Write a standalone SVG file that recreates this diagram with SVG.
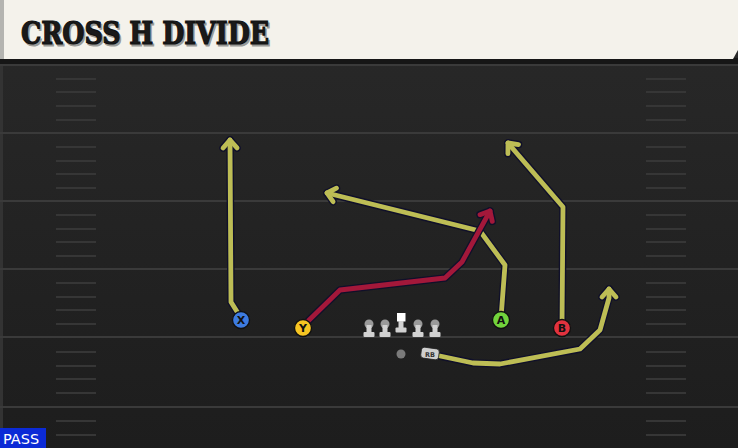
<svg xmlns="http://www.w3.org/2000/svg" width="738" height="448" viewBox="0 0 738 448">
<style>
.yl{stroke:#3a3a3a;stroke-width:2}
.hm{stroke:#363636;stroke-width:2}
.ro{fill:none;stroke:#10102a;stroke-width:7.5;stroke-linejoin:round;stroke-linecap:round}
.ry{fill:none;stroke:#bdbd55;stroke-width:4.8;stroke-linejoin:round;stroke-linecap:round}
.rr{fill:none;stroke:#a3183a;stroke-width:4.8;stroke-linejoin:round;stroke-linecap:round}
.pl{stroke:#111;stroke-width:1.3}
.pt{font-family:"DejaVu Sans",sans-serif;font-weight:bold;font-size:11px;fill:#111;text-anchor:middle}
.ol{fill:#d2d2d2}
</style>
<defs>
<linearGradient id="fg" x1="0" y1="0" x2="0" y2="1">
<stop offset="0" stop-color="#292929"/>
<stop offset="1" stop-color="#1d1d1d"/>
</linearGradient>
<marker id="ao" markerUnits="userSpaceOnUse" viewBox="-12 -10 16 20" refX="0" refY="0" markerWidth="16" markerHeight="20" orient="auto" overflow="visible">
<path d="M-8,-7 L0,0 L-8,7" fill="none" stroke="#10102a" stroke-width="7.5" stroke-linecap="round" stroke-linejoin="round"/>
</marker>
<marker id="ay" markerUnits="userSpaceOnUse" viewBox="-12 -10 16 20" refX="0" refY="0" markerWidth="16" markerHeight="20" orient="auto" overflow="visible">
<path d="M-8,-7 L0,0 L-8,7" fill="none" stroke="#bdbd55" stroke-width="4.8" stroke-linecap="round" stroke-linejoin="round"/>
</marker>
<marker id="ar" markerUnits="userSpaceOnUse" viewBox="-12 -10 16 20" refX="0" refY="0" markerWidth="16" markerHeight="20" orient="auto" overflow="visible">
<path d="M-8,-7 L0,0 L-8,7" fill="none" stroke="#a3183a" stroke-width="4.8" stroke-linecap="round" stroke-linejoin="round"/>
</marker>
</defs>
<rect x="0" y="0" width="738" height="448" fill="url(#fg)"/>
<rect x="0" y="64" width="3" height="384" fill="#333"/>
<g id="field">
<line class="yl" x1="0" y1="65" x2="738" y2="65"/>
<line class="yl" x1="0" y1="133" x2="738" y2="133"/>
<line class="yl" x1="0" y1="201" x2="738" y2="201"/>
<line class="yl" x1="0" y1="269" x2="738" y2="269"/>
<line class="yl" x1="0" y1="337" x2="738" y2="337"/>
<line class="yl" x1="0" y1="407" x2="738" y2="407"/>
<g class="hm">
<line x1="56" y1="79" x2="96" y2="79"/><line x1="56" y1="92" x2="96" y2="92"/><line x1="56" y1="106" x2="96" y2="106"/><line x1="56" y1="120" x2="96" y2="120"/>
<line x1="56" y1="147" x2="96" y2="147"/><line x1="56" y1="161" x2="96" y2="161"/><line x1="56" y1="174" x2="96" y2="174"/><line x1="56" y1="188" x2="96" y2="188"/>
<line x1="56" y1="215" x2="96" y2="215"/><line x1="56" y1="229" x2="96" y2="229"/><line x1="56" y1="242" x2="96" y2="242"/><line x1="56" y1="256" x2="96" y2="256"/>
<line x1="56" y1="283" x2="96" y2="283"/><line x1="56" y1="297" x2="96" y2="297"/><line x1="56" y1="310" x2="96" y2="310"/><line x1="56" y1="324" x2="96" y2="324"/>
<line x1="56" y1="352" x2="96" y2="352"/><line x1="56" y1="366" x2="96" y2="366"/><line x1="56" y1="379" x2="96" y2="379"/><line x1="56" y1="393" x2="96" y2="393"/>
<line x1="56" y1="421" x2="96" y2="421"/><line x1="56" y1="435" x2="96" y2="435"/>
<line x1="646" y1="79" x2="686" y2="79"/><line x1="646" y1="92" x2="686" y2="92"/><line x1="646" y1="106" x2="686" y2="106"/><line x1="646" y1="120" x2="686" y2="120"/>
<line x1="646" y1="147" x2="686" y2="147"/><line x1="646" y1="161" x2="686" y2="161"/><line x1="646" y1="174" x2="686" y2="174"/><line x1="646" y1="188" x2="686" y2="188"/>
<line x1="646" y1="215" x2="686" y2="215"/><line x1="646" y1="229" x2="686" y2="229"/><line x1="646" y1="242" x2="686" y2="242"/><line x1="646" y1="256" x2="686" y2="256"/>
<line x1="646" y1="283" x2="686" y2="283"/><line x1="646" y1="297" x2="686" y2="297"/><line x1="646" y1="310" x2="686" y2="310"/><line x1="646" y1="324" x2="686" y2="324"/>
<line x1="646" y1="352" x2="686" y2="352"/><line x1="646" y1="366" x2="686" y2="366"/><line x1="646" y1="379" x2="686" y2="379"/><line x1="646" y1="393" x2="686" y2="393"/>
<line x1="646" y1="421" x2="686" y2="421"/><line x1="646" y1="435" x2="686" y2="435"/>
</g>
</g>
<g id="header">
<rect x="0" y="58" width="738" height="6" fill="#161616"/>
<polygon points="0,0 738,0 738,50 733,59 0,59" fill="#f4f2eb"/>
<rect x="0" y="0" width="4" height="59" fill="#b4b4b0"/>
<text x="22.5" y="45.5" font-family="'DejaVu Serif',serif" font-weight="bold" font-size="31" fill="#9a9a96" stroke="#9a9a96" stroke-width="1.2" textLength="248" lengthAdjust="spacingAndGlyphs">CROSS H DIVIDE</text>
<text x="21" y="44" font-family="'DejaVu Serif',serif" font-weight="bold" font-size="31" fill="#1a1a1a" stroke="#111" stroke-width="1.2" textLength="248" lengthAdjust="spacingAndGlyphs">CROSS H DIVIDE</text>
</g>
<g id="connectors">
<path class="ro" marker-end="url(#ao)" d="M241,318 L231,302 L230,140"/>
<path class="ry" marker-end="url(#ay)" d="M241,318 L231,302 L230,140"/>
<path class="ro" marker-end="url(#ao)" d="M501,318 L505,265 L480,231 L327,193"/>
<path class="ry" marker-end="url(#ay)" d="M501,318 L505,265 L480,231 L327,193"/>
<path class="ro" marker-end="url(#ao)" d="M562,326 L563,207 L508,143"/>
<path class="ry" marker-end="url(#ay)" d="M562,326 L563,207 L508,143"/>
<path class="ro" marker-end="url(#ao)" d="M440,356 L473,363 L500,364 L580,349 L600,330 L609,298 L609,289"/>
<path class="ry" marker-end="url(#ay)" d="M440,356 L473,363 L500,364 L580,349 L600,330 L609,298 L609,289"/>
<path class="ro" marker-end="url(#ao)" d="M303,326 L340,290 L445,278 L462,262 L490,211"/>
<path class="rr" marker-end="url(#ar)" d="M303,326 L340,290 L445,278 L462,262 L490,211"/>
</g>
<g id="X"><circle class="pl" cx="241" cy="320" r="8.5" fill="#3d7be0"/><text class="pt" x="241" y="324">X</text></g>
<g id="Y"><circle class="pl" cx="303" cy="328" r="8.5" fill="#f6c522"/><text class="pt" x="303" y="332">Y</text></g>
<g id="A"><circle class="pl" cx="501" cy="320" r="8.5" fill="#72d43c"/><text class="pt" x="501" y="324">A</text></g>
<g id="B"><circle class="pl" cx="562" cy="328" r="8.5" fill="#e2323e"/><text class="pt" x="562" y="332">B</text></g>
<g id="LT"><circle cx="369" cy="324" r="4.5" fill="#9a9a9a"/><rect class="ol" x="366.5" y="325" width="5" height="9"/><rect class="ol" x="363.5" y="332" width="11" height="5" rx="1"/></g>
<g id="LG"><circle cx="385" cy="324" r="4.5" fill="#9a9a9a"/><rect class="ol" x="382.5" y="325" width="5" height="9"/><rect class="ol" x="379.5" y="332" width="11" height="5" rx="1"/></g>
<g id="C"><rect x="397" y="313" width="8.5" height="8.5" fill="#ffffff"/><rect class="ol" x="398.5" y="321" width="5" height="8"/><rect class="ol" x="395.5" y="327.5" width="11" height="5" rx="1"/></g>
<g id="RG"><circle cx="418" cy="324" r="4.5" fill="#9a9a9a"/><rect class="ol" x="415.5" y="325" width="5" height="9"/><rect class="ol" x="412.5" y="332" width="11" height="5" rx="1"/></g>
<g id="RT"><circle cx="435" cy="324" r="4.5" fill="#9a9a9a"/><rect class="ol" x="432.5" y="325" width="5" height="9"/><rect class="ol" x="429.5" y="332" width="11" height="5" rx="1"/></g>
<g id="QB"><circle cx="401" cy="354" r="4.5" fill="#7a7a7a"/></g>
<g id="RB"><rect x="421" y="348" width="18" height="11" rx="3" fill="#cfcfcf" stroke="#222" stroke-width="0.8" transform="rotate(8 430 353.5)"/><text x="430" y="357" font-family="'DejaVu Sans',sans-serif" font-weight="bold" font-size="6.5" fill="#333" text-anchor="middle">RB</text></g>
<g id="pass"><rect x="0" y="428" width="46" height="20" fill="#0b2ad6"/><text x="3" y="444" font-family="'DejaVu Sans',sans-serif" font-size="14.5" fill="#ffffff">PASS</text></g>
</svg>
